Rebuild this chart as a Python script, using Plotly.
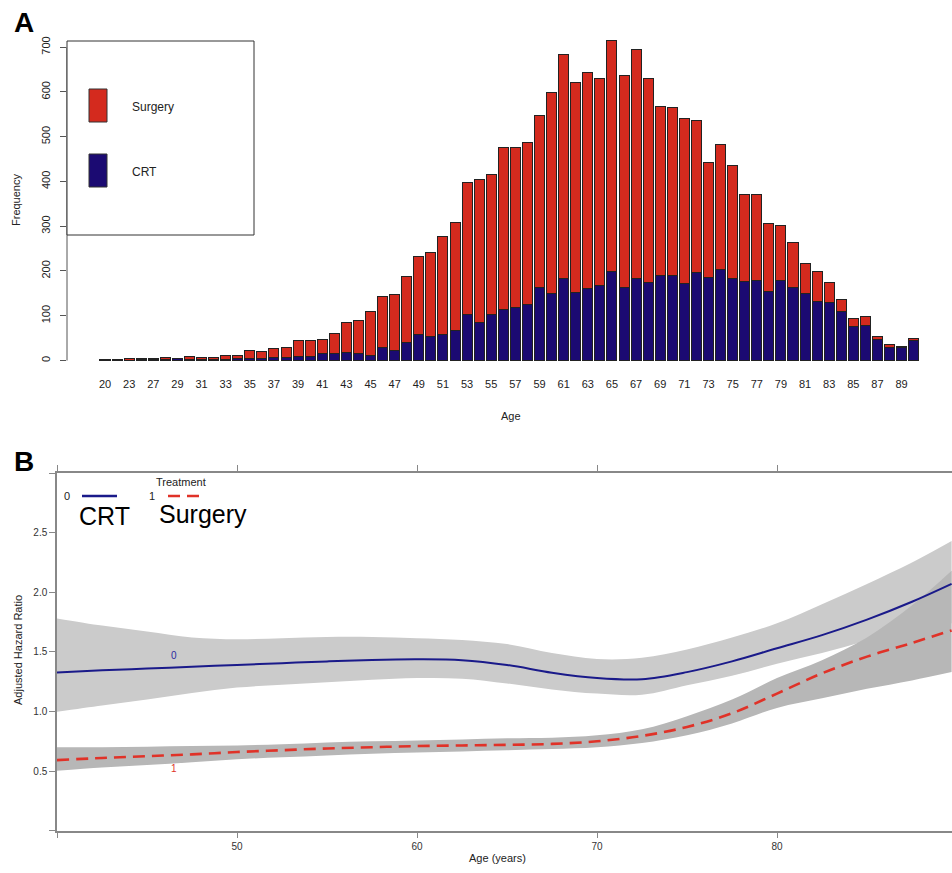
import plotly.graph_objects as go

W, H = 952, 873

# ---------------- Panel A data ----------------
ages = [20, 22, 23, 25, 27, 28, 29, 30, 31, 32, 33, 34, 35, 36, 37, 38, 39, 40,
        41, 42, 43, 44, 45, 46, 47, 48, 49, 50, 51, 52, 53, 54, 55, 56, 57, 58,
        59, 60, 61, 62, 63, 64, 65, 66, 67, 68, 69, 70, 71, 72, 73, 74, 75, 76,
        77, 78, 79, 80, 81, 82, 83, 84, 85, 86, 87, 88, 89, 90]
total = [2, 2, 4, 4, 4, 6, 5, 9, 7, 7, 12, 11, 22, 20, 26, 30, 44, 44,
         46, 60, 86, 89, 110, 142, 147, 188, 233, 242, 278, 308, 398, 404, 416, 476, 476, 486,
         548, 598, 684, 620, 644, 629, 714, 637, 695, 629, 568, 566, 540, 537, 443, 483, 435, 370,
         370, 306, 302, 263, 217, 198, 175, 137, 93, 99, 54, 36, 31, 50]
crt = [1, 1, 1, 2, 2, 3, 4, 2, 2, 2, 3, 4, 4, 5, 6, 6, 8, 8,
       15, 16, 19, 16, 12, 30, 22, 41, 57, 53, 59, 68, 103, 84, 103, 114, 119, 126,
       164, 149, 184, 153, 160, 167, 198, 162, 184, 175, 191, 191, 173, 197, 186, 203, 183, 176,
       179, 155, 178, 164, 149, 132, 130, 110, 75, 79, 47, 30, 28, 45]
surgery = [t - c for t, c in zip(total, crt)]
age_labels = [str(a) for a in ages]
shown_labels = age_labels[::2]
freq_ticks = [0, 100, 200, 300, 400, 500, 600, 700]

# ---------------- Panel B data ----------------
b_age = [40, 42.5, 45, 47.5, 50, 52.5, 55, 57.5, 60, 62.5, 65, 67.5, 70, 72.5,
         75, 77.5, 80, 82.5, 85, 87.5, 89.7]
crt_fit = [1.327, 1.345, 1.36, 1.375, 1.39, 1.405, 1.42, 1.432, 1.437, 1.43, 1.39, 1.325, 1.28, 1.27,
           1.33, 1.42, 1.53, 1.64, 1.77, 1.92, 2.07]
crt_hi = [1.78, 1.72, 1.67, 1.62, 1.605, 1.615, 1.625, 1.625, 1.615, 1.60, 1.565, 1.49, 1.44, 1.45,
          1.52, 1.62, 1.74, 1.90, 2.07, 2.25, 2.43]
crt_lo = [0.997, 1.05, 1.10, 1.155, 1.20, 1.225, 1.245, 1.265, 1.28, 1.275, 1.235, 1.185, 1.15, 1.14,
          1.22, 1.30, 1.40, 1.49, 1.59, 1.67, 1.74]
sur_fit = [0.592, 0.61, 0.625, 0.64, 0.66, 0.675, 0.69, 0.70, 0.71, 0.715, 0.72, 0.728, 0.75, 0.795,
           0.87, 0.985, 1.15, 1.32, 1.46, 1.575, 1.68]
sur_hi = [0.70, 0.70, 0.705, 0.71, 0.715, 0.725, 0.74, 0.75, 0.757, 0.765, 0.775, 0.78, 0.80, 0.85,
          0.96, 1.10, 1.28, 1.43, 1.62, 1.89, 2.18]
sur_lo = [0.502, 0.53, 0.55, 0.575, 0.60, 0.615, 0.63, 0.645, 0.655, 0.665, 0.675, 0.685, 0.70, 0.735,
          0.80, 0.90, 1.03, 1.11, 1.19, 1.26, 1.33]
hr_ticks = [0, 0.5, 1.0, 1.5, 2.0, 2.5, 3.0]
hr_text = ['', '0.5', '1.0', '1.5', '2.0', '2.5', '']
age_ticks = [40, 50, 60, 70, 80]
age_text = ['', '50', '60', '70', '80']

RED = '#D42A1E'
NAVY = '#1B0A72'
FONT = 'Liberation Sans, Arial, sans-serif'


def fx(p):
    return p / W


def fy(p):
    return 1 - p / H


def txt(text, x, y, size=11, color='#222', xanchor='center', angle=0):
    return dict(text=text, x=fx(x), y=fy(y), xref='paper', yref='paper', xanchor=xanchor, yanchor='middle',
                showarrow=False, textangle=angle, font=dict(size=size, color=color, family=FONT))


fig = go.Figure()

# Panel A bars
fig.add_trace(go.Bar(x=age_labels, y=crt, name='CRT', marker=dict(color=NAVY, line=dict(color='#222', width=1)),
                     xaxis='x', yaxis='y', showlegend=False))
fig.add_trace(go.Bar(x=age_labels, y=surgery, name='Surgery', marker=dict(color=RED, line=dict(color='#222', width=1)),
                     xaxis='x', yaxis='y', showlegend=False))

# Panel B bands (lower bound, then upper bound filled to it) and lines
for lo, hi, col in [(crt_lo, crt_hi, '#cbcbcb'), (sur_lo, sur_hi, '#b7b7b7')]:
    fig.add_trace(go.Scatter(x=b_age, y=lo, mode='lines', line=dict(width=0, shape='spline', color=col),
                             xaxis='x2', yaxis='y2', showlegend=False, hoverinfo='skip'))
    fig.add_trace(go.Scatter(x=b_age, y=hi, mode='lines', fill='tonexty', fillcolor=col,
                             line=dict(width=0, shape='spline', color=col),
                             xaxis='x2', yaxis='y2', showlegend=False, hoverinfo='skip'))
fig.add_trace(go.Scatter(x=b_age, y=crt_fit, mode='lines', line=dict(color='#1a1a8a', width=2, shape='spline'),
                         xaxis='x2', yaxis='y2', showlegend=False))
fig.add_trace(go.Scatter(x=b_age, y=sur_fit, mode='lines',
                         line=dict(color='#e03228', width=2.6, dash='12px,7px', shape='spline'),
                         xaxis='x2', yaxis='y2', showlegend=False))

# Panel A axes geometry
x0a, x1a = 67, 935
c0, step = 105, 12.07
y_base, pxu = 360.5, 0.4476
ya_top, ya_bot = 40, 362

shapes = []
annotations = []

# y axis line for A (0..700)
shapes.append(dict(type='line', xref='paper', yref='y', x0=fx(x0a), x1=fx(x0a), y0=0, y1=700,
                   line=dict(color='#555', width=1)))
# legend box A
shapes.append(dict(type='rect', xref='paper', yref='paper', x0=fx(67), x1=fx(254), y0=fy(41), y1=fy(235),
                   line=dict(color='#333', width=1), fillcolor='white', layer='above'))
shapes.append(dict(type='rect', xref='paper', yref='paper', x0=fx(89), x1=fx(107), y0=fy(89), y1=fy(122),
                   line=dict(color='#333', width=1), fillcolor=RED, layer='above'))
shapes.append(dict(type='rect', xref='paper', yref='paper', x0=fx(89), x1=fx(107), y0=fy(154), y1=fy(187),
                   line=dict(color='#333', width=1), fillcolor=NAVY, layer='above'))
annotations.append(txt('Surgery', 130, 107, size=12, xanchor='left'))
annotations.append(txt('CRT', 130, 172, size=12, xanchor='left'))

# labels
annotations.append(txt('<b>A</b>', 24, 22, size=28, color='black'))
annotations.append(txt('<b>B</b>', 24, 461, size=28, color='black'))
annotations.append(txt('Frequency', 16, 200, angle=-90))
annotations.append(txt('Age', 511, 416))
annotations.append(txt('Adjusted Hazard Ratio', 18, 650, angle=-90))
annotations.append(txt('Age (years)', 497, 858))

# Panel B in-plot labels
annotations.append(dict(text='0', x=46.5, y=1.47, xref='x2', yref='y2', showarrow=False,
                        font=dict(size=10, color='#2a2aa0', family=FONT)))
annotations.append(dict(text='1', x=46.5, y=0.525, xref='x2', yref='y2', showarrow=False,
                        font=dict(size=10, color='#e03228', family=FONT)))

# Panel B legend
annotations.append(txt('Treatment', 181, 482))
annotations.append(txt('0', 67, 496))
annotations.append(txt('1', 152, 496))
shapes.append(dict(type='line', xref='paper', yref='paper', x0=fx(82), x1=fx(117), y0=fy(496), y1=fy(496),
                   line=dict(color='#1a1a8a', width=2.5)))
shapes.append(dict(type='line', xref='paper', yref='paper', x0=fx(168), x1=fx(203), y0=fy(496), y1=fy(496),
                   line=dict(color='#e03228', width=2.5, dash='12px,7px')))
annotations.append(txt('CRT', 77, 516, size=25, color='black', xanchor='left'))
annotations.append(txt('Surgery', 157, 514, size=25, color='black', xanchor='left'))

fig.update_layout(
    width=W, height=H, margin=dict(l=0, r=0, t=0, b=0),
    paper_bgcolor='white', plot_bgcolor='white',
    barmode='stack', bargap=0.17,
    font=dict(family=FONT, color='#222'),
    shapes=shapes, annotations=annotations,
    xaxis=dict(domain=[fx(x0a), fx(x1a)], anchor='y', type='category',
               range=[(x0a - c0) / step, (x1a - c0) / step],
               tickmode='array', tickvals=shown_labels, ticktext=shown_labels,
               ticks='', showline=False, showgrid=False, zeroline=False, automargin=False,
               tickfont=dict(size=11, color='#222'), ticklabelstandoff=14),
    yaxis=dict(domain=[fy(ya_bot), fy(ya_top)], anchor='x',
               range=[(y_base - ya_bot) / pxu, (y_base - ya_top) / pxu],
               tickmode='array', tickvals=freq_ticks, tickangle=-90, automargin=False,
               ticks='outside', ticklen=6, tickcolor='#555', showline=False,
               showgrid=False, zeroline=False, tickfont=dict(size=11, color='#222'), ticklabelstandoff=6),
    xaxis2=dict(domain=[fx(57), 1.0], anchor='y2', range=[40, 40 + (952 - 57) / 18.0],
                tickmode='array', tickvals=age_ticks, ticktext=age_text, automargin=False,
                ticks='outside', ticklen=6, tickcolor='#888', showline=True, linecolor='#888', linewidth=1.5,
                mirror='ticks', showgrid=False, zeroline=False, tickfont=dict(size=10, color='#333')),
    yaxis2=dict(domain=[fy(830.7), fy(473)], anchor='x2', range=[0, 3.0],
                tickmode='array', tickvals=hr_ticks, ticktext=hr_text, automargin=False,
                ticks='outside', ticklen=6, tickcolor='#888', showline=True, linecolor='#888', linewidth=1.5,
                showgrid=False, zeroline=False, tickfont=dict(size=10, color='#333')),
)

fig.write_html('out.html', config={'displayModeBar': False},
               post_script="document.body.style.margin='0px';document.body.style.overflow='hidden';")
